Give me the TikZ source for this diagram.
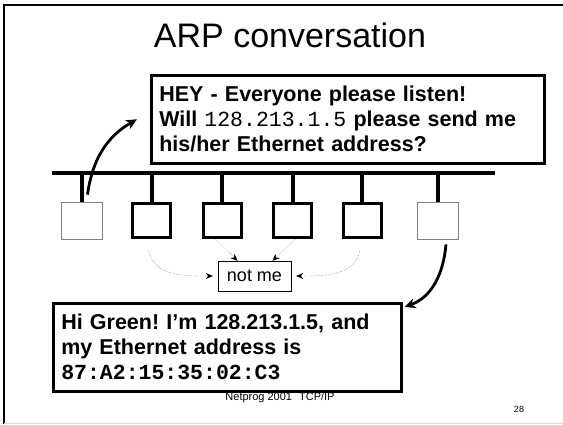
\documentclass[tikz,border=0pt]{standalone}
\usepackage{fontspec}
\setmainfont{Liberation Sans}
\setmonofont{Liberation Mono}
\usetikzlibrary{arrows.meta}
\frenchspacing

\begin{document}
\begin{tikzpicture}[
        x=1pt, y=1pt,
        msgbox/.style={draw, line width=2.5pt, anchor=north west, align=left, inner xsep=8pt, inner ysep=0pt, font=\fontsize{21.5}{25}\selectfont\bfseries},
        host/.style={draw, line width=3pt, minimum width=38pt, minimum height=34pt},
        idlehost/.style={draw=gray, line width=.8pt, minimum width=41pt, minimum height=37pt},
        wire/.style={line width=4pt},
        hop/.style={-{Stealth[length=11pt,width=10pt]}, line width=2.8pt},
        notice/.style={densely dotted, gray!70!black, thin, -{Stealth[black,length=7pt,width=6pt]}},
    ]
    \useasboundingbox (0,-424) rectangle (563,0);
    \draw[line width=1.5pt] (4,-424) -- (4,-5) -- (563,-5);
    \draw[gray!30] (4,-423) -- (563,-423);
    \node[anchor=base, font=\fontsize{34}{34}\selectfont] (title) at (290,-47) {ARP conversation};
    \node[msgbox, text width=377pt, minimum width=393pt, minimum height=88pt] (query) at (150,-74) {HEY - Everyone please listen!\\Will {\mdseries\ttfamily 128.213.1.5} please send me\\his/her Ethernet address?};
    \coordinate (busL) at (52,-173);
    \coordinate (busR) at (495,-173);
    \draw[wire] (busL) -- (busR);
    \node[idlehost] (h1) at (81.5,-220.5) {};
    \foreach \n/\x in {2/151.5, 3/222, 4/292.5, 5/362}
        \node[host] (h\n) at (\x,-220.5) {};
    \node[idlehost] (h6) at (438,-220.5) {};
    \foreach \n in {1,...,6}
        \draw[wire] (h\n.north) -- (h\n.north |- busL);
    \node[draw, thin, inner sep=0pt, minimum width=73pt, minimum height=30pt, font=\fontsize{18}{18}\selectfont] (notme) at (254.5,-276) {not me};
    \node[msgbox, text width=332pt, minimum width=348pt, minimum height=88pt] (answer) at (52,-302) {Hi Green! I’m 128.213.1.5, and\\my Ethernet address is\\{\ttfamily 87:A2:15:35:02:C3}};
    \draw[hop] ([xshift=6pt,yshift=7pt]h1.north) to[out=82, in=210] ([xshift=-13pt]query.west);
    \draw[hop] ([xshift=8pt,yshift=-5pt]h6.south) to[out=-95, in=20] ([xshift=2pt,yshift=-5pt]answer.north east);
    \draw[notice] ([xshift=-3pt,yshift=-11pt]h2.south) to[out=-80, in=180] ([xshift=-5pt]notme.west);
    \draw[notice] ([xshift=-7pt]h3.south) -- ([xshift=-17pt]notme.north);
    \draw[notice] ([xshift=3pt]h4.south) -- ([xshift=18pt]notme.north);
    \draw[notice] ([xshift=-2pt,yshift=-11pt]h5.south) to[out=-100, in=0] ([xshift=5pt]notme.east);
    \node[anchor=base, font=\fontsize{11}{11}\selectfont] (footer) at (280,-400) {Netprog 2001\hspace{7pt}TCP/IP};
    \node[anchor=base, font=\fontsize{9}{9}\selectfont] (page) at (519,-412) {28};
\end{tikzpicture}
\end{document}
